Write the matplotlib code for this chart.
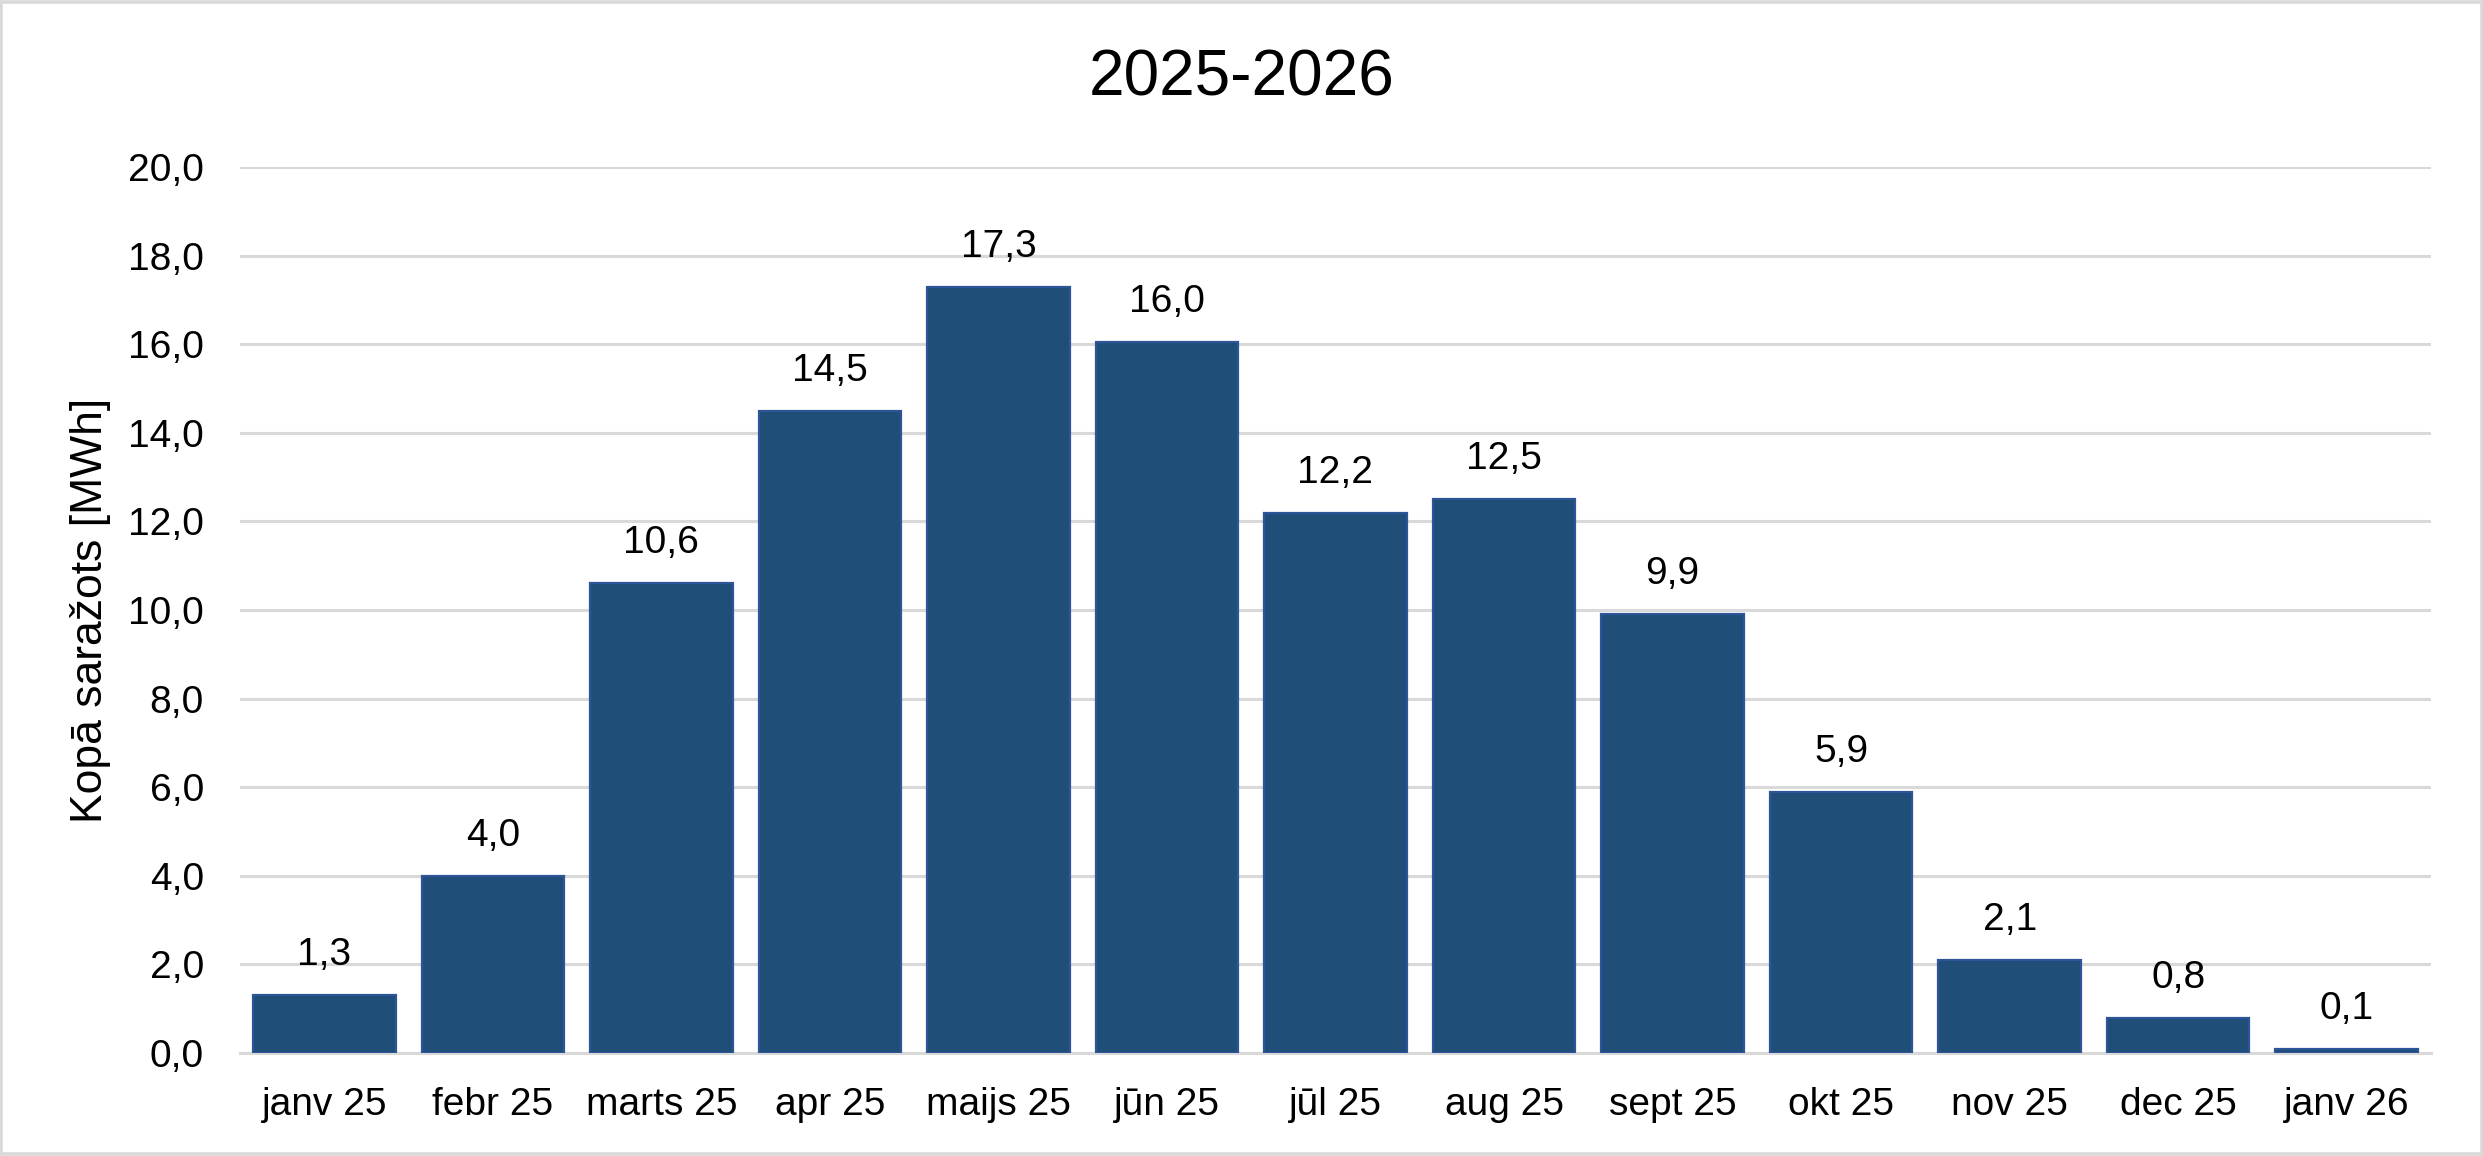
import matplotlib
matplotlib.use("Agg")
import matplotlib.pyplot as plt
from matplotlib.patches import Rectangle

categories = ["janv 25", "febr 25", "marts 25", "apr 25", "maijs 25", "jūn 25",
              "jūl 25", "aug 25", "sept 25", "okt 25", "nov 25", "dec 25", "janv 26"]
values = [1.3, 4.0, 10.6, 14.5, 17.3, 16.04, 12.2, 12.5, 9.9, 5.9, 2.1, 0.8, 0.1]
yticks = [0, 2, 4, 6, 8, 10, 12, 14, 16, 18, 20]

title = "2025-2026"
ylabel = "Kopā saražots [MWh]"

plt.rcParams['font.family'] = ['Liberation Sans', 'DejaVu Sans']

DPI = 200
fig = plt.figure(figsize=(2483 / DPI, 1156 / DPI), dpi=DPI)
ax = fig.add_axes([240 / 2483, 1 - 1053 / 1156, (2431 - 240) / 2483, (1053 - 167) / 1156])

x = list(range(len(categories)))
bars = ax.bar(x, values, width=0.846, color="#1F4E79", edgecolor="#2E5597",
              linewidth=0.8, zorder=3)

for xi, v in zip(x, values):
    ax.annotate(f"{v:.1f}".replace(".", ","), (xi, v), xytext=(0, 10.8),
                textcoords="offset points", ha="center", va="baseline",
                fontsize=14, color="black", zorder=4)

ax.set_xlim(-0.5, len(categories) - 0.5)
ax.set_ylim(0, 20)
ax.set_yticks(yticks)
ax.set_yticklabels([f"{t:.1f}".replace(".", ",") for t in yticks])
ax.set_xticks(x)
ax.set_xticklabels(categories)

ax.tick_params(axis="both", length=0, labelsize=14, colors="black")
ax.tick_params(axis="x", pad=12.2)
ax.tick_params(axis="y", pad=13.0)

ax.grid(axis="y", color="#D9D9D9", linewidth=1.1, zorder=0)
ax.set_axisbelow(True)
for s in ["top", "right", "left"]:
    ax.spines[s].set_visible(False)
ax.spines["bottom"].set_color("#D9D9D9")
ax.spines["bottom"].set_linewidth(1.1)
ax.spines["bottom"].set_zorder(2)

ax.set_ylabel(ylabel, fontsize=16, labelpad=6)
fig.text(0.5, 1 - 96 / 1156, title, ha="center", va="baseline", fontsize=23)

fig.patches.append(Rectangle((0.0006, 0.0013), 0.9988, 0.9974, transform=fig.transFigure,
                             fill=False, edgecolor="#D9D9D9", linewidth=1.3))

fig.savefig("out.png", dpi=DPI, facecolor="white")
